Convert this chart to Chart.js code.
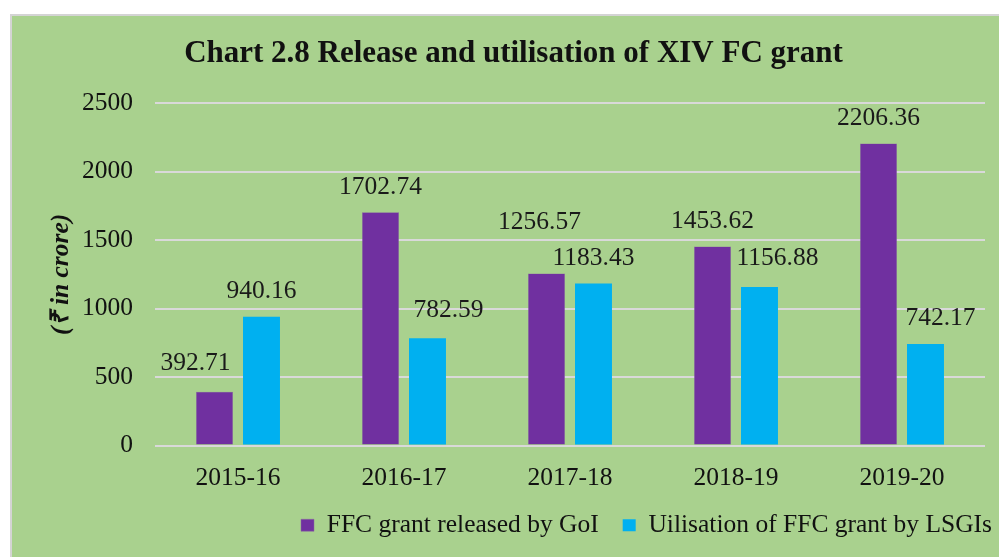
<!DOCTYPE html>
<html>
<head>
<meta charset="utf-8">
<script src="https://cdn.jsdelivr.net/npm/chart.js@4/dist/chart.umd.min.js"></script>
<style>
  html, body { margin: 0; padding: 0; background: #ffffff; width: 999px; height: 557px; overflow: hidden; }
  #panel { position: absolute; left: 10px; top: 14px; width: 1000px; height: 560px;
           background: #a9d18e; border-left: 2px solid #d4d4d4; border-top: 2px solid #d4d4d4; }
  #wrap { position: absolute; left: 0; top: 0; width: 999px; height: 557px; }
</style>
</head>
<body>
<div id="panel"></div>
<div id="wrap"><canvas id="c" width="999" height="557"></canvas></div>
<script>
// ---- data ----
const categories = ["2015-16", "2016-17", "2017-18", "2018-19", "2019-20"];
const releasedByGoI = [392.71, 1702.74, 1256.57, 1453.62, 2206.36];
const utilisedByLSGIs = [940.16, 782.59, 1183.43, 1156.88, 742.17];
const seriesNames = ["FFC grant released by GoI", "Uilisation of FFC grant by LSGIs"];
const yTicks = [0, 500, 1000, 1500, 2000, 2500];

// label nudges (layout only): [dx, dy] per point
const labelNudge = [
  [[-19, -3], [0, 0], [-7, -26], [0, 0], [0, 0]],
  [[0, 0], [21, -3], [0, 0], [18, -4], [15, -1]]
];

const FONT = "'Liberation Serif', 'Times New Roman', serif";

const dataLabels = {
  id: 'dataLabels',
  afterDatasetsDraw(chart) {
    const ctx = chart.ctx;
    ctx.save();
    ctx.font = "25.5px " + FONT;
    ctx.fillStyle = "#1a1a1a";
    ctx.textAlign = "center";
    ctx.textBaseline = "middle";
    chart.data.datasets.forEach((ds, di) => {
      const meta = chart.getDatasetMeta(di);
      meta.data.forEach((el, i) => {
        const n = labelNudge[di][i];
        ctx.fillText(ds.data[i].toFixed(2), el.x + n[0], el.y - 25 + n[1]);
      });
    });
    ctx.restore();
  }
};

// shift the legend box to sit where the reference has it
const legendShift = {
  id: 'legendShift',
  afterLayout(chart) {
    const lg = chart.legend;
    if (!lg) return;
    const dx = 31, dy = -9;
    lg.left += dx; lg.right += dx; lg.top += dy; lg.bottom += dy;
    if (lg.adjustHitBoxes) lg.adjustHitBoxes();
  }
};

new Chart(document.getElementById('c'), {
  type: 'bar',
  data: {
    labels: categories,
    datasets: [
      { label: seriesNames[0], data: releasedByGoI, backgroundColor: '#7030a0', borderColor: '#8a6aa0', borderWidth: 0.5,
        categoryPercentage: 0.566, barPercentage: 0.787 },
      { label: seriesNames[1], data: utilisedByLSGIs, backgroundColor: '#00b0f0',
        categoryPercentage: 0.566, barPercentage: 0.787 }
    ]
  },
  options: {
    responsive: false,
    animation: false,
    layout: { padding: { left: 42, right: 14, top: 0, bottom: 0 } },
    plugins: {
      title: {
        display: true,
        text: 'Chart 2.8 Release and utilisation of XIV FC grant',
        color: '#111111',
        font: { family: FONT, size: 31, weight: 'bold' },
        padding: { top: 35, bottom: 31 }
      },
      legend: {
        position: 'bottom',
        align: 'end',
        labels: {
          color: '#111111',
          font: { family: FONT, size: 25.5 },
          boxWidth: 13, boxHeight: 12,
          padding: 24
        }
      },
      tooltip: { enabled: false }
    },
    scales: {
      x: {
        grid: { display: false },
        border: { display: false },
        ticks: { color: '#111111', font: { family: FONT, size: 25.5 }, padding: 9 },
        afterFit(scale) { scale.height = 52; }
      },
      y: {
        min: 0, max: 2500,
        afterBuildTicks(scale) { scale.ticks = yTicks.map(v => ({ value: v })); },
        grid: { color: '#d9d9d9', lineWidth: 2, drawTicks: false },
        border: { display: false },
        ticks: { color: '#111111', font: { family: FONT, size: 25.5 }, padding: 22,
                 callback: (v) => String(v) },
        title: {
          display: true,
          text: '(₹ in crore)',
          color: '#111111',
          font: { family: FONT, size: 25.5, weight: 'bold', style: 'italic' },
          padding: { top: 4, bottom: 0 }
        },
        afterFit(scale) { scale.width = 113; }
      }
    }
  },
  plugins: [dataLabels, legendShift]
});
</script>
</body>
</html>
